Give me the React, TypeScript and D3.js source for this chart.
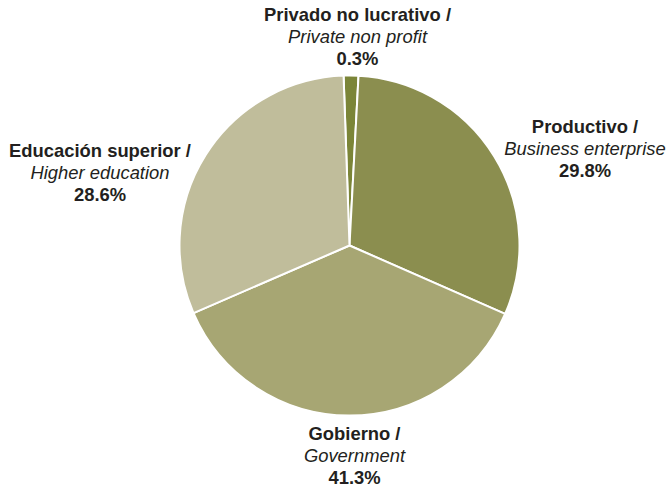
import React from "react";
import * as d3 from "d3";

// Sectors in drawing order (clockwise from top)
const sectorsEs = ["Privado no lucrativo /", "Productivo /", "Gobierno /", "Educación superior /"];
const sectorsEn = ["Private non profit", "Business enterprise", "Government", "Higher education"];
const percentLabels = ["0.3%", "29.8%", "41.3%", "28.6%"];
// Slice shares as drawn in the picture
const sliceShares = [1.4, 30.75, 36.9, 30.95];
const sliceColors = ["#7b8538", "#8b8e4f", "#a7a673", "#c0bd9b"];

// Label anchor positions (centre x, first baseline y)
const labelPos: [number, number][] = [
  [357.5, 21],
  [585, 133],
  [354.5, 440],
  [100, 157],
];

const W = 669;
const H = 487;
const cx = 349.5;
const cy = 245.5;
const R = 170;

export default function App() {
  const pie = d3
    .pie<number>()
    .sort(null)
    .value((d) => d)
    .startAngle((-2 * Math.PI) / 180)
    .endAngle(2 * Math.PI - (2 * Math.PI) / 180);
  const arcs = pie(sliceShares);
  const arc = d3.arc<d3.PieArcDatum<number>>().innerRadius(0).outerRadius(R);
  const lh = 22.2;
  return (
    <svg
      width={W}
      height={H}
      style={{ position: "absolute", left: 0, top: 0, background: "#fff" }}
      fontFamily="'Liberation Sans', Arial, Helvetica, sans-serif"
    >
      <g transform={`translate(${cx},${cy})`}>
        {arcs.map((a, i) => (
          <path key={i} d={arc(a) || ""} fill={sliceColors[i]} stroke="#fff" strokeWidth={2} strokeLinejoin="round" />
        ))}
      </g>
      {labelPos.map(([x, y], i) => (
        <text key={i} x={x} y={y} textAnchor="middle" fill="#231f20" fontSize={18.4}>
          <tspan x={x} fontWeight="bold">{sectorsEs[i]}</tspan>
          <tspan x={x} dy={lh} fontStyle="italic">{sectorsEn[i]}</tspan>
          <tspan x={x} dy={lh} fontWeight="bold">{percentLabels[i]}</tspan>
        </text>
      ))}
    </svg>
  );
}
